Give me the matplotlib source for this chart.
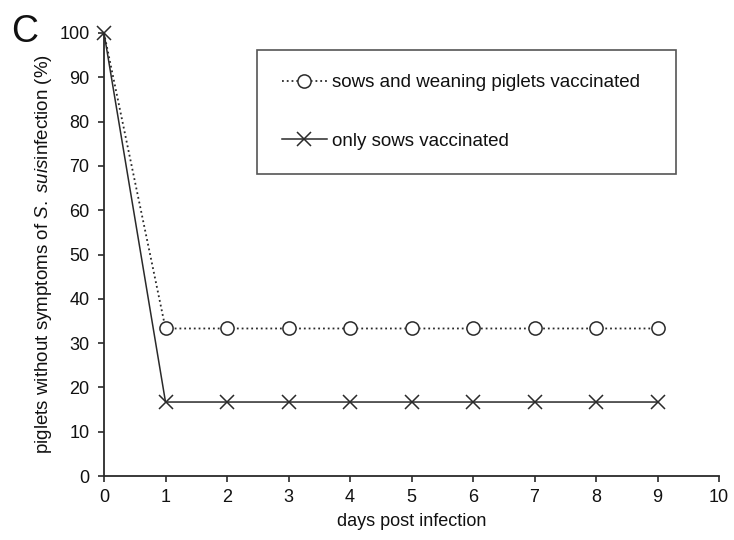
import matplotlib.pyplot as plt
import numpy as np

# Anteil symptomfreier Ferkel pro Tag nach Infektion
days = [0, 1, 2, 3, 4, 5, 6, 7, 8, 9]
sows_and_piglets = [100, 33.3, 33.3, 33.3, 33.3, 33.3, 33.3, 33.3, 33.3, 33.3]
only_sows = [100, 16.7, 16.7, 16.7, 16.7, 16.7, 16.7, 16.7, 16.7, 16.7]

plt.rcParams['font.family'] = ['Liberation Sans Narrow', 'Liberation Sans', 'DejaVu Sans']
plt.rcParams['mathtext.fontset'] = 'custom'
plt.rcParams['mathtext.it'] = 'Liberation Sans:italic'
plt.rcParams['mathtext.rm'] = 'Liberation Sans'

ink = '#2a2a2a'

fig = plt.figure(figsize=(7.34, 5.4), dpi=100)
ax = fig.add_axes([0.1417, 0.1185, 0.8379, 0.8204])

# Kreis am Tag 0 liegt unter dem Kreuz, daher erst ab Tag 1 markieren
ax.plot(days, sows_and_piglets, linestyle=':', color=ink, lw=1.3,
        marker='o', markersize=9.5, markerfacecolor='white', markeredgecolor=ink,
        markeredgewidth=1.1, markevery=list(range(1, len(days))),
        label='sows and weaning piglets vaccinated', clip_on=False, zorder=3)
ax.plot(days, only_sows, linestyle='-', color=ink, lw=1.1,
        marker='x', markersize=10, markeredgewidth=1.1,
        label='only sows vaccinated', clip_on=False, zorder=3)

ax.set_xlim(0, 10)
ax.set_ylim(0, 100)
ax.set_xticks(range(0, 11))
ax.set_yticks(range(0, 101, 10))
ax.tick_params(labelsize=13, direction='out', length=4.5, width=1.2, colors=ink,
               labelcolor='#111111')
ax.tick_params(axis='y', pad=6)
ax.tick_params(axis='x', pad=5)
for side in ['top', 'right']:
    ax.spines[side].set_visible(False)
for side in ['left', 'bottom']:
    ax.spines[side].set_linewidth(1.3)
    ax.spines[side].set_color(ink)

ax.set_xlabel('days post infection', fontsize=13, labelpad=5, color='#111111')
ax.set_ylabel(r'piglets without symptoms of $\mathit{S.\ suis}$infection (%)',
              fontsize=13.5, family='Liberation Sans', labelpad=4, color='#111111')

leg = ax.legend(loc='upper left', bbox_to_anchor=(0.249, 0.682, 0.681, 0.28),
                mode='expand', frameon=True, fancybox=False, edgecolor=ink,
                prop={'family': 'Liberation Sans', 'size': 13.5},
                handlelength=2.4, handletextpad=0.3, labelspacing=2.2,
                borderpad=1.3, borderaxespad=0)
leg.get_frame().set_linewidth(1.2)
for t in leg.get_texts():
    t.set_color('#111111')

fig.text(0.015, 0.975, 'C', fontsize=27, family='Liberation Sans', va='top',
         ha='left', color='#111111')

fig.savefig('out.png', dpi=100)
